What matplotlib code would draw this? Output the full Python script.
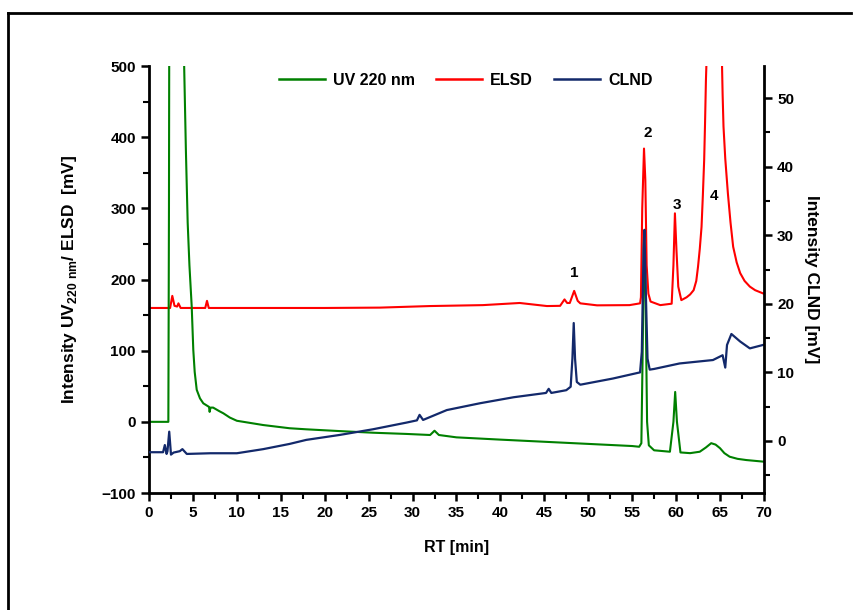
import matplotlib
matplotlib.use('Agg')
import matplotlib.pyplot as plt
from matplotlib.lines import Line2D
from matplotlib.ticker import MultipleLocator

plt.rcParams['font.family'] = ['Liberation Sans', 'DejaVu Sans']
plt.rcParams['font.weight'] = 'bold'
plt.rcParams['mathtext.fontset'] = 'custom'
plt.rcParams['mathtext.rm'] = 'Liberation Sans'

# UV 220 nm trace (left axis, mV)
uv_t = [0, 2.2, 2.27, 2.35, 3.0, 3.8, 4.0, 4.2, 4.4, 4.6, 4.86, 5.04, 5.2, 5.43, 5.8, 6.18,
        6.83, 6.9, 7.0, 7.3, 8.0, 8.46, 9.2, 10.0, 11.5, 13.0, 16.0, 17.9, 21.7, 25.5, 29.3,
        32.0, 32.5, 33.0, 35.0, 40.0, 45.0, 50.0, 55.0, 55.8, 56.05, 56.2, 56.35, 56.5, 56.7,
        56.9, 57.5, 59.3, 59.7, 59.9, 60.1, 60.5, 61.6, 62.7, 63.4, 64.0, 64.5, 65.0, 65.5,
        66.1, 67.0, 68.0, 70.0]
uv_v = [0, 0, 300, 900, 2000, 700, 500, 380, 280, 220, 162, 101, 70, 45, 33, 26,
        21, 14, 20, 20, 15, 12, 6, 1.5, -1.5, -4.5, -9, -10.5, -13, -15.3, -17,
        -18.5, -12.5, -18.5, -21.8, -25, -28, -31, -34, -35, -30, 100, 260, 200, 0,
        -33, -40, -42, 0, 42, 0, -43, -44, -42, -36, -30, -32, -37, -44,
        -49, -52, -53.7, -56]

# ELSD trace (left axis, mV)
el_t = [0, 2.4, 2.65, 2.9, 3.2, 3.35, 3.6, 6.4, 6.6, 6.8, 10, 20, 26.3, 32, 38, 42.2,
        45.3, 46.8, 47.3, 47.6, 47.9, 48.4, 48.8, 49.1, 51, 54.7, 55.9, 56.0, 56.15,
        56.35, 56.5, 56.65, 56.85, 57.1, 58.2, 59.5, 59.7, 59.87, 60.05, 60.25, 60.6,
        61.2, 61.6, 62.0, 62.3, 62.5, 62.7, 62.9, 63.05, 63.2, 63.3, 63.4, 63.5, 63.8,
        64.3, 64.8, 65.2, 65.3, 65.4, 65.6, 65.9, 66.2, 66.5, 66.9, 67.3, 67.8, 68.4,
        69.0, 69.9, 70]
el_v = [160, 160, 177, 163, 162, 166.5, 160, 160, 170, 160, 160, 160, 160.5, 162.7, 164, 167,
        162.7, 163, 172, 167, 167, 184, 170, 166.5, 163.7, 164, 166.5, 175, 300,
        384, 340, 220, 180, 169, 164, 166, 220, 293, 240, 190, 171,
        175, 179, 185, 198, 218, 243, 274, 318, 368, 420, 480, 520, 650,
        760, 650, 520, 460, 415, 370, 321, 280, 246, 224, 209, 198, 190,
        185, 180.5, 180]

# CLND trace (right axis, mV)
cl_t = [0, 1.6, 1.8, 2.0, 2.1, 2.3, 2.5, 2.8, 3.5, 3.8, 4.3, 7, 10, 13, 16, 17.9, 21.7,
        25.5, 29.3, 30.5, 30.8, 31.2, 33.9, 37.7, 41.5, 45.2, 45.5, 45.8, 47.5, 48.0,
        48.2, 48.35, 48.5, 48.7, 49.1, 52.8, 55.9, 56.1, 56.3, 56.4, 56.55, 56.75, 57.0,
        57.5, 60.4, 64.2, 65.3, 65.6, 65.8, 66.3, 67.3, 68.4, 69.9]
cl_v = [-1.65, -1.65, -0.6, -1.9, -1.5, 1.35, -2, -1.7, -1.5, -1.2, -1.9, -1.8, -1.8, -1.2,
        -0.44, 0.15, 0.87, 1.7, 2.67, 3.0, 3.8, 3.06, 4.5, 5.5, 6.37, 7.0, 7.6, 7.0, 7.4,
        7.9, 12, 17.2, 12, 8.6, 8.2, 9.1, 10.0, 13, 28, 30.8, 22, 12, 10.4,
        10.5, 11.3, 11.8, 12.5, 10.7, 14, 15.6, 14.5, 13.5, 14]

peak_labels = ['1', '2', '3', '4']
peak_x = [48.4, 56.8, 60.1, 64.3]
peak_y = [209, 406, 304, 318]

c_uv = '#008000'
c_el = '#ff0000'
c_cl = '#13296b'

fig = plt.figure(figsize=(8.54, 6.10), dpi=100)
ax = fig.add_axes([0.1745, 0.1918, 0.72, 0.70])
ax2 = ax.twinx()

ax.plot(el_t, el_v, color=c_el, lw=1.5)
ax.plot(uv_t, uv_v, color=c_uv, lw=1.5)
ax2.plot(cl_t, cl_v, color=c_cl, lw=1.6)

ax.set_xlim(0, 70)
ax.set_ylim(-100, 500)
ax2.set_ylim(-7.6, 54.7)

ax.xaxis.set_major_locator(MultipleLocator(5))
ax.xaxis.set_minor_locator(MultipleLocator(2.5))
ax.yaxis.set_major_locator(MultipleLocator(100))
ax.yaxis.set_minor_locator(MultipleLocator(50))
ax2.yaxis.set_major_locator(MultipleLocator(10))
ax2.yaxis.set_minor_locator(MultipleLocator(5))

for a in (ax, ax2):
    a.spines['top'].set_visible(False)
    for s in ('left', 'right', 'bottom'):
        a.spines[s].set_linewidth(2)
    a.tick_params(which='major', direction='out', length=6, width=1.8, labelsize=11)
    a.tick_params(which='minor', direction='out', length=4, width=1.5)
ax.spines['right'].set_visible(False)
ax2.spines['left'].set_visible(False)
ax2.spines['bottom'].set_visible(False)

for lab, x, y in zip(peak_labels, peak_x, peak_y):
    ax.text(x, y, lab, ha='center', va='center', fontsize=11, fontweight='bold')

ax.set_xlabel('RT [min]', fontsize=11.5, fontweight='bold', labelpad=14)
ax.set_ylabel(r'Intensity UV$_{\mathrm{220\ nm}}$/ ELSD  [mV]', fontsize=12.5,
              fontweight='bold', labelpad=16)
ax2.set_ylabel('Intensity CLND [mV]', fontsize=12.5, fontweight='bold',
               rotation=-90, labelpad=18)

handles = [Line2D([], [], color=c_uv, lw=1.8),
           Line2D([], [], color=c_el, lw=1.8),
           Line2D([], [], color=c_cl, lw=1.8)]
ax2.legend(handles, ['UV 220 nm', 'ELSD', 'CLND'], loc='center', bbox_to_anchor=(0.515, 0.967),
           ncol=3, frameon=False, handlelength=2.9, columnspacing=1.3,
           handletextpad=0.5, prop={'weight': 'bold', 'size': 11.5})

# page border
fig.add_artist(Line2D([8 / 854, 8 / 854], [0, 1 - 13 / 610], color='black', lw=2,
                      transform=fig.transFigure))
fig.add_artist(Line2D([8 / 854, 851 / 854], [1 - 13 / 610, 1 - 13 / 610], color='black', lw=2,
                      transform=fig.transFigure))

fig.savefig('out.png', dpi=100)
